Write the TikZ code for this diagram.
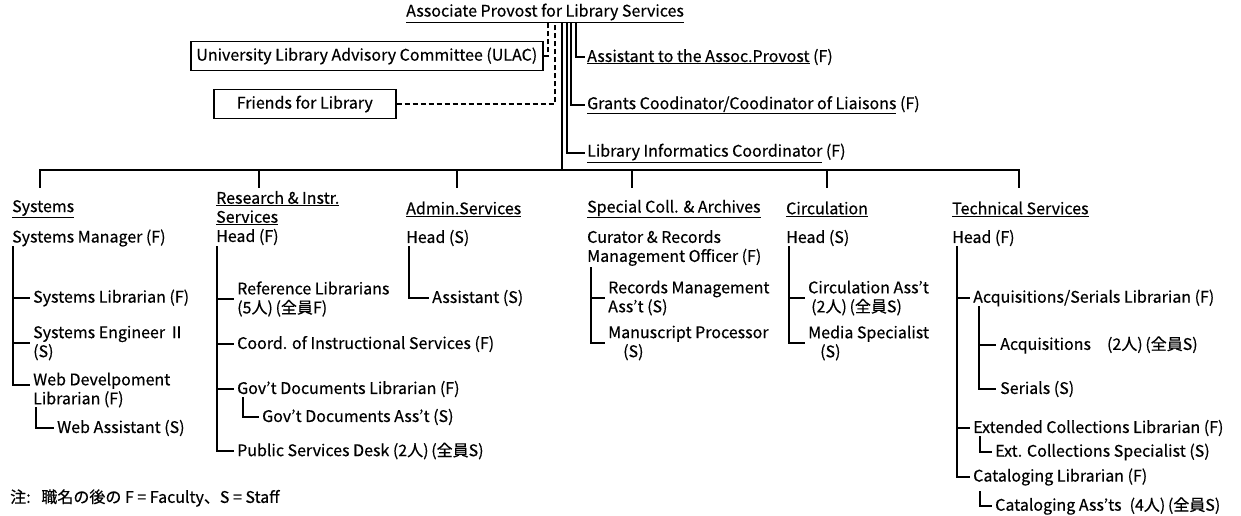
\documentclass[tikz,border=0pt]{standalone}
\usepackage{fontspec}
\setmainfont{Noto Sans CJK JP}[FakeBold=0.4]
\begin{document}
\begin{tikzpicture}[x=1pt,y=-1pt,
  every node/.style={inner sep=0pt, anchor=west, align=left, font=\fontsize{16}{19}\selectfont},
  conn/.style={line width=1.6pt, line cap=rect},
  dsh/.style={line width=1.6pt, dash pattern=on 5pt off 3pt},
  boxed/.style={draw, line width=1.6pt, minimum height=29pt, align=center}]
\useasboundingbox[fill=white] (0,0) rectangle (1241,516);

% top
\node (ap) at (406,13) {\underline{Associate Provost for Library Services}};
\node[boxed, minimum width=352pt] (ulac) at (190,56) {University Library Advisory Committee (ULAC)};
\node[boxed, minimum width=182pt] (fr) at (213,104) {Friends for Library};
\node (asst) at (587,57) {\underline{Assistant to the Assoc.Provost} (F)};
\node (grant) at (587,105) {\underline{Grants Coodinator/Coodinator of Liaisons} (F)};
\node (linf) at (587,153) {\underline{Library Informatics Coordinator} (F)};

\coordinate (d1) at (548,23);
\coordinate (d2) at (555,23);
\coordinate (t0) at (562,23);
\coordinate (t1) at (567,23);
\coordinate (t2) at (571,23);
\coordinate (t3) at (576,23);
\draw[dsh] (ulac.east) -| (d1);
\draw[dsh] (fr.east) -| (d2);
\draw[conn] (t3) |- ([xshift=-3pt]asst.west);
\draw[conn] (t2) |- ([xshift=-3pt]grant.west);
\draw[conn] (t1) |- ([xshift=-3pt]linf.west);

% bus
\coordinate (b1) at (40,170);
\coordinate (b2) at (259,170);
\coordinate (b3) at (457,170);
\coordinate (b4) at (632,170);
\coordinate (b5) at (827,170);
\coordinate (b6) at (1019,170);
\draw[conn] (t0) -- (t0 |- b1);
\draw[conn] (b1) -- (b6);
\foreach \b in {b1,b2,b3,b4,b5,b6} \draw[conn] (\b) -- ++(0,17);

% Systems
\node (sys) at (12,209) {\underline{Systems}};
\node (sysm) at (12,238) {Systems Manager (F)};
\coordinate (s1) at (13,247);
\node (syslib) at (33,298) {Systems Librarian (F)};
\node (syseng) at (33,343) {Systems Engineer Ⅱ\\(S)};
\node (webdev) at (33,390) {Web Develpoment\\Librarian (F)};
\node (webas) at (57,428) {Web Assistant (S)};
\coordinate (s1b) at (36,408);
\draw[conn] (s1) |- ([xshift=-4pt]syslib.west);
\draw[conn] (s1) |- ([xshift=-4pt]syseng.west);
\draw[conn] (s1) |- ([xshift=-4pt,yshift=5pt]webdev.west);
\draw[conn] (s1b) |- ([xshift=-4pt]webas.west);

% Research
\node (res) at (216,208) {\underline{Research \& Instr.}\\\underline{Services}};
\node (resh) at (216,237) {Head (F)};
\coordinate (s2) at (217,247);
\node (ref) at (237,299) {Reference Librarians\\(5人)\,(全員F)};
\node (coord) at (237,344) {Coord. of Instructional Services (F)};
\node (gov) at (237,389) {Gov't Documents Librarian (F)};
\node (govas) at (262,417) {Gov't Documents Ass't (S)};
\node (psd) at (237,451) {Public Services Desk (2人)\,(全員S)};
\coordinate (s2b) at (243,398);
\draw[conn] (s2) |- ([xshift=-4pt]ref.west);
\draw[conn] (s2) |- ([xshift=-4pt]coord.west);
\draw[conn] (s2) |- ([xshift=-4pt]gov.west);
\draw[conn] (s2) |- ([xshift=-4pt]psd.west);
\draw[conn] (s2b) |- ([xshift=-4pt]govas.west);

% Admin
\node (adm) at (406,209) {\underline{Admin.Services}};
\node (admh) at (406,238) {Head (S)};
\coordinate (s3) at (409,247);
\node (adas) at (432,298) {Assistant (S)};
\draw[conn] (s3) |- ([xshift=-4pt]adas.west);

% Special
\node (spc) at (587,209) {\underline{Special Coll. \& Archives}};
\node (cur) at (587,248) {Curator \& Records\\Management Officer (F)};
\coordinate (s4) at (591,268);
\node (rma) at (608,298) {Records Management\\Ass't (S)};
\node (mp) at (608,343) {Manuscript Processor\\\hspace*{15pt}(S)};
\draw[conn] (s4) |- ([xshift=-4pt]rma.west);
\draw[conn] (s4) |- ([xshift=-4pt]mp.west);

% Circulation
\node (cir) at (786,209) {\underline{Circulation}};
\node (cirh) at (786,238) {Head (S)};
\coordinate (s5) at (789,247);
\node (ca) at (808,298) {Circulation Ass't\\\hspace*{3pt}(2人)\,(全員S)};
\node (ms) at (808,343) {Media Specialist\\\hspace*{12pt}(S)};
\draw[conn] (s5) |- ([xshift=-4pt]ca.west);
\draw[conn] (s5) |- ([xshift=-4pt]ms.west);

% Technical
\node (tec) at (952,209) {\underline{Technical Services}};
\node (tech) at (952,238) {Head (F)};
\coordinate (s6) at (957,247);
\node (asl) at (973,298) {Acquisitions/Serials Librarian (F)};
\node (acq) at (1000,345) {Acquisitions\quad(2人)\,(全員S)};
\node (ser) at (1000,389) {Serials (S)};
\node (ecl) at (973,428) {Extended Collections Librarian (F)};
\node (ecs) at (995,452) {Ext. Collections Specialist (S)};
\node (cl) at (973,477) {Cataloging Librarian (F)};
\node (cas) at (995,506) {Cataloging Ass'ts\enspace(4人)\,(全員S)};
\coordinate (s6a) at (979,307);
\coordinate (s6b) at (980,437);
\coordinate (s6c) at (980,492);
\draw[conn] (s6) |- ([xshift=-4pt]asl.west);
\draw[conn] (s6) |- ([xshift=-4pt]ecl.west);
\draw[conn] (s6) |- ([xshift=-4pt]cl.west);
\draw[conn] (s6a) |- ([xshift=-5pt]acq.west);
\draw[conn] (s6a) |- ([xshift=-5pt]ser.west);
\draw[conn] (s6b) |- ([xshift=-4pt]ecs.west);
\draw[conn] (s6c) |- ([xshift=-4pt]cas.west);

% note
\node (note) at (10,498) {注:\ \ \ 職名の後の F = Faculty、S = Staff};
\end{tikzpicture}
\end{document}
